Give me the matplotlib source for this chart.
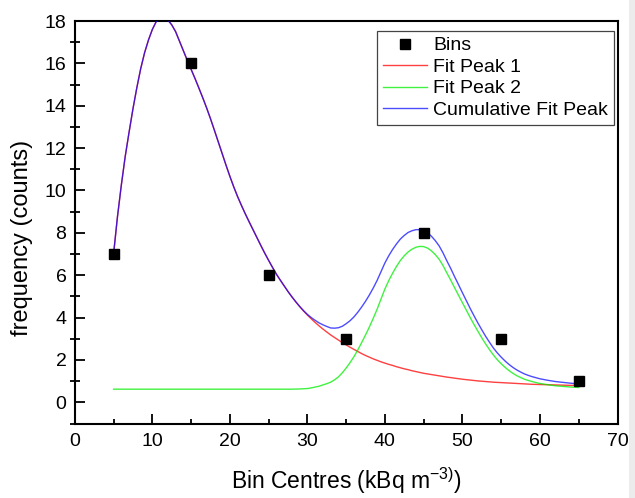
import matplotlib
matplotlib.use("Agg")
import numpy as np
import matplotlib.pyplot as plt
from matplotlib.patches import Rectangle

plt.rcParams['font.family'] = ['Liberation Sans', 'DejaVu Sans']
plt.rcParams['mathtext.fontset'] = 'custom'
plt.rcParams['mathtext.rm'] = 'Liberation Sans'
plt.rcParams['mathtext.it'] = 'Liberation Sans:italic'
plt.rcParams['mathtext.default'] = 'regular'

# ---- data ----
bin_x = [5, 15, 25, 35, 45, 55, 65]
bin_y = [7, 16, 6, 3, 8, 3, 1]

# Fit Peak 1
peak1_x = np.concatenate([np.arange(5, 45.01, 0.5), np.arange(46, 65.01, 1)])
peak1_y = [7.0, 8.75, 10.25, 11.6, 12.75, 13.85, 14.85, 15.75, 16.5, 17.1,
           17.6, 17.97, 18.13, 18.17, 18.05, 17.82, 17.5, 17.05, 16.6, 16.15,
           15.72, 15.29, 14.84, 14.38, 13.9, 13.39, 12.85, 12.3, 11.75, 11.2,
           10.67, 10.17, 9.71, 9.29, 8.89, 8.51, 8.14, 7.77, 7.4, 7.04,
           6.7, 6.37, 6.05, 5.77, 5.5, 5.23,
           4.98, 4.74, 4.52, 4.31, 4.12, 3.94, 3.77, 3.61, 3.46, 3.32,
           3.18, 3.06, 2.94, 2.82, 2.71, 2.6, 2.5, 2.4, 2.3, 2.21,
           2.13, 2.05, 1.98, 1.91, 1.85, 1.79, 1.74, 1.68, 1.63, 1.58,
           1.54, 1.49, 1.45, 1.41, 1.37,
           1.31, 1.25, 1.19, 1.14, 1.09, 1.05, 1.01, 0.98, 0.95, 0.93,
           0.91, 0.89, 0.87, 0.85, 0.84, 0.83, 0.82, 0.81, 0.80, 0.79]

# Fit Peak 2
peak2_x = np.concatenate([[5, 10, 15, 20, 25, 28], np.arange(28.5, 60.01, 0.5), np.arange(61, 65.01, 1)])
peak2_y = [0.62, 0.62, 0.62, 0.62, 0.62, 0.62,
           0.625, 0.63, 0.64, 0.65, 0.68, 0.72, 0.76, 0.82, 0.88, 0.95,
           1.06, 1.2, 1.39, 1.62, 1.87, 2.15, 2.47, 2.82, 3.18, 3.56,
           3.97, 4.4, 4.88, 5.35, 5.75, 6.1, 6.42, 6.7, 6.92, 7.1,
           7.23, 7.32, 7.36, 7.35, 7.28, 7.15, 6.97, 6.75, 6.45, 6.1,
           5.76, 5.4, 5.05, 4.7, 4.35, 4.0, 3.67, 3.35, 3.04, 2.75,
           2.48, 2.23, 2.01, 1.82, 1.65, 1.5, 1.37, 1.26, 1.17, 1.09,
           1.03, 0.98, 0.93, 0.89,
           0.83, 0.78, 0.75, 0.72, 0.70]

# Cumulative Fit Peak
cum_x = np.concatenate([np.arange(5, 60.01, 0.5), np.arange(61, 65.01, 1)])
cum_y = [7.0, 8.75, 10.25, 11.6, 12.75, 13.85, 14.85, 15.75, 16.5, 17.1,
         17.6, 17.97, 18.13, 18.17, 18.05, 17.82, 17.5, 17.05, 16.6, 16.15,
         15.72, 15.29, 14.84, 14.38, 13.9, 13.39, 12.85, 12.3, 11.75, 11.2,
         10.67, 10.17, 9.71, 9.29, 8.89, 8.51, 8.14, 7.77, 7.4, 7.04,
         6.7, 6.37, 6.05, 5.77, 5.5, 5.23,
         4.98, 4.75, 4.53, 4.33, 4.15, 4.00, 3.87, 3.75, 3.66, 3.58,
         3.51, 3.50, 3.52, 3.59, 3.71, 3.85, 4.03, 4.25, 4.50, 4.77,
         5.07, 5.40, 5.76, 6.17, 6.58, 6.92, 7.22, 7.48, 7.71, 7.88,
         8.02, 8.10, 8.15, 8.15, 8.10, 8.00, 7.84, 7.63, 7.38, 7.05,
         6.67, 6.31, 5.92, 5.55, 5.17, 4.80, 4.43, 4.08, 3.74, 3.42,
         3.11, 2.83, 2.56, 2.33, 2.13, 1.95, 1.79, 1.65, 1.53, 1.43,
         1.34, 1.27, 1.21, 1.16, 1.11,
         1.04, 0.98, 0.94, 0.90, 0.87]

labels = ['Bins', 'Fit Peak 1', 'Fit Peak 2', 'Cumulative Fit Peak']

# ---- figure ----
fig = plt.figure(figsize=(6.35, 4.98), dpi=100)
fig.patches.append(Rectangle((629 / 635, 0), 6 / 635, 1, transform=fig.transFigure,
                             facecolor='#ececec', edgecolor='none', zorder=0))
ax = fig.add_axes([74.8 / 635, 1 - 423.5 / 498, (617.5 - 74.8) / 635, (423.5 - 21) / 498])

ax.plot(peak1_x, peak1_y, color='#ff0000', alpha=0.75, lw=1.0, label=labels[1], zorder=2)
ax.plot(peak2_x, peak2_y, color='#00ee00', alpha=0.75, lw=1.0, label=labels[2], zorder=2)
ax.plot(cum_x, cum_y, color='#0000ff', alpha=0.7, lw=1.0, label=labels[3], zorder=3)
ax.plot(bin_x, bin_y, 's', color='black', ms=6.7, label=labels[0], zorder=4, clip_on=False)

ax.set_xlim(0, 70)
ax.set_ylim(-1, 18)
ax.set_xticks(range(0, 71, 10))
ax.set_xticks(range(5, 70, 10), minor=True)
ax.set_yticks(range(0, 19, 2))
ax.set_yticks(range(-1, 18, 2), minor=True)

for s in ax.spines.values():
    s.set_linewidth(1.5)

ax.tick_params(axis='x', which='major', direction='in', length=7, width=1.3, labelsize=14, pad=7,
               top=False)
ax.tick_params(axis='x', which='minor', direction='in', length=3.3, width=1.3, top=False)
ax.tick_params(axis='y', which='major', direction='in', length=7, width=1.3, labelsize=14, pad=6,
               right=False)
ax.tick_params(axis='y', which='minor', direction='inout', length=7, width=1.3, right=False)

ax.set_xlabel(r'Bin Centres (kBq m$^{-3)}$)', fontsize=16.5)
ax.set_ylabel('frequency (counts)', fontsize=17)
ax.xaxis.set_label_coords(0.5, -0.103)
ax.yaxis.set_label_coords(-0.077, 0.462)

h, l = ax.get_legend_handles_labels()
order = [3, 0, 1, 2]
leg = ax.legend([h[i] for i in order], [l[i] for i in order], loc='upper right',
                bbox_to_anchor=((614 - 74.8) / 542.7, 1 - 10 / 402.5), borderaxespad=0,
                fontsize=14, frameon=True, fancybox=False, shadow=False, framealpha=1,
                edgecolor='#444444', handlelength=2.3, handletextpad=0.3, labelspacing=0.2,
                borderpad=0.3, numpoints=1)
leg.get_frame().set_linewidth(0.9)

fig.savefig('out.png', dpi=100)
